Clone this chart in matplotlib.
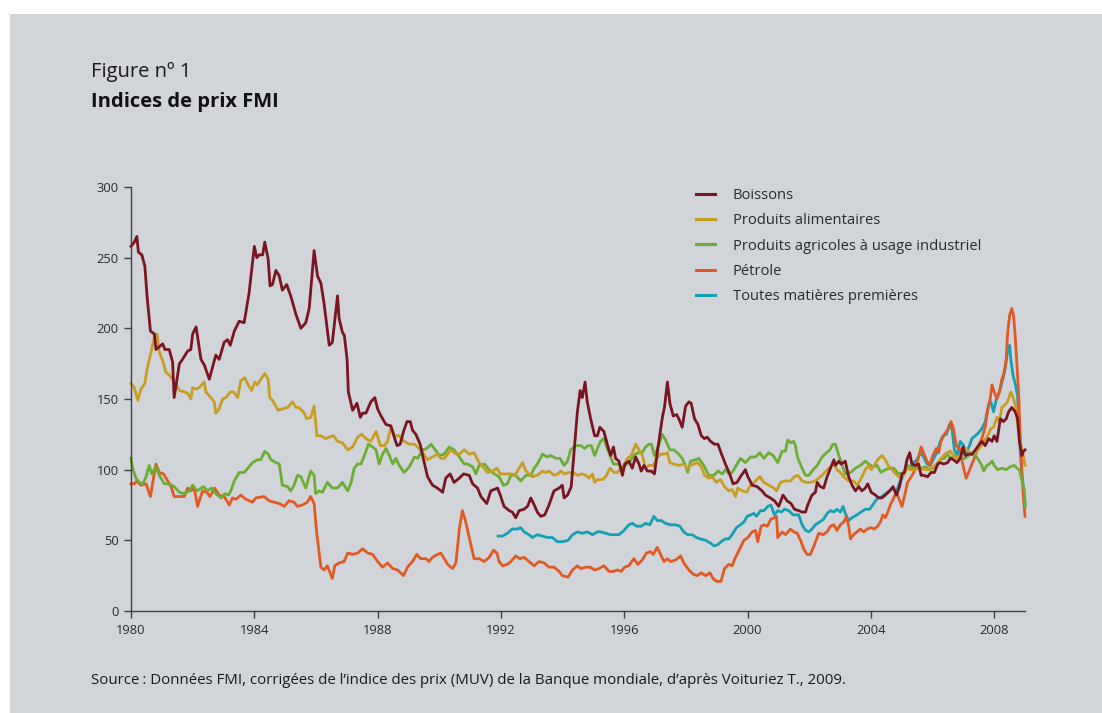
import matplotlib
matplotlib.use("Agg")
import matplotlib.pyplot as plt
from matplotlib.patches import Rectangle

# ---------------- data ----------------
boissons_t = [1980.00,1980.11,1980.19,1980.24,1980.35,1980.45,1980.52,1980.63,1980.76,1980.81,1980.92,1981.03,1981.10,1981.24,1981.35,1981.40,1981.57,1981.67,1981.84,1981.94,1982.00,1982.11,1982.27,1982.38,1982.54,1982.75,1982.86,1983.02,1983.13,1983.22,1983.35,1983.51,1983.67,1983.83,1984.00,1984.08,1984.16,1984.27,1984.34,1984.45,1984.51,1984.59,1984.70,1984.81,1984.91,1985.05,1985.18,1985.35,1985.51,1985.67,1985.78,1985.94,1986.05,1986.16,1986.26,1986.43,1986.53,1986.70,1986.75,1986.86,1986.92,1987.01,1987.05,1987.19,1987.33,1987.44,1987.51,1987.62,1987.78,1987.91,1988.00,1988.11,1988.27,1988.43,1988.54,1988.63,1988.73,1988.84,1988.95,1989.06,1989.13,1989.24,1989.38,1989.49,1989.62,1989.78,1989.94,1990.11,1990.21,1990.35,1990.48,1990.65,1990.79,1990.97,1991.08,1991.24,1991.35,1991.54,1991.67,1991.89,1991.98,1992.10,1992.27,1992.37,1992.48,1992.59,1992.75,1992.86,1992.97,1993.08,1993.18,1993.29,1993.42,1993.56,1993.72,1993.89,1993.99,1994.05,1994.16,1994.28,1994.37,1994.48,1994.57,1994.64,1994.73,1994.80,1994.91,1995.04,1995.13,1995.21,1995.34,1995.45,1995.56,1995.65,1995.72,1995.83,1995.94,1996.02,1996.15,1996.26,1996.37,1996.48,1996.55,1996.64,1996.75,1996.88,1996.98,1997.09,1997.23,1997.31,1997.40,1997.48,1997.59,1997.70,1997.77,1997.88,1997.99,1998.10,1998.17,1998.28,1998.39,1998.50,1998.60,1998.69,1998.80,1998.93,1999.04,1999.14,1999.28,1999.42,1999.53,1999.66,1999.77,1999.93,2000.01,2000.15,2000.31,2000.47,2000.58,2000.74,2000.87,2001.01,2001.15,2001.28,2001.41,2001.52,2001.66,2001.77,2001.88,2001.95,2002.09,2002.20,2002.26,2002.36,2002.47,2002.58,2002.69,2002.80,2002.85,2002.96,2003.03,2003.17,2003.28,2003.39,2003.50,2003.61,2003.71,2003.82,2003.90,2004.01,2004.15,2004.25,2004.36,2004.47,2004.61,2004.72,2004.83,2004.93,2005.01,2005.09,2005.17,2005.26,2005.33,2005.44,2005.55,2005.63,2005.71,2005.84,2005.95,2006.06,2006.17,2006.25,2006.36,2006.49,2006.58,2006.68,2006.79,2006.90,2006.99,2007.06,2007.17,2007.28,2007.39,2007.49,2007.60,2007.71,2007.82,2007.93,2008.00,2008.09,2008.20,2008.30,2008.39,2008.47,2008.57,2008.68,2008.76,2008.82,2008.90,2008.95,2009.00]
boissons_v = [258,261,265,254,252,244,223,198,196,185,187,189,185,185,176,151,175,178,184,185,196,201,178,174,164,181,178,190,192,188,198,205,204,225,258,250,252,252,261,249,230,231,241,237,227,231,223,210,200,204,214,255,237,232,218,188,190,223,207,197,195,178,155,142,147,137,140,140,148,151,143,138,132,131,123,117,118,127,134,134,128,125,118,107,95,89,87,84,94,97,91,94,97,96,90,87,81,76,85,87,82,74,71,70,66,71,72,74,80,75,70,67,68,75,85,87,89,80,82,88,112,141,156,151,162,148,136,124,124,130,127,118,110,116,108,106,96,104,106,101,109,104,99,103,99,99,97,115,136,145,162,147,138,139,136,130,145,148,147,136,132,124,122,123,120,118,118,112,104,97,90,91,95,100,95,89,88,85,82,80,78,74,82,78,76,72,71,70,70,75,82,84,91,88,87,95,101,107,103,106,104,106,95,89,85,88,85,87,90,84,82,80,80,82,85,88,82,88,97,98,107,112,104,103,104,96,96,95,98,98,104,105,104,105,108,107,105,108,116,110,111,111,114,117,120,117,122,120,124,120,136,134,136,141,144,141,136,120,110,113,114]

alim_t = [1980.00,1980.11,1980.22,1980.32,1980.45,1980.52,1980.65,1980.76,1980.84,1980.92,1981.03,1981.13,1981.24,1981.35,1981.46,1981.57,1981.73,1981.84,1981.94,1982.00,1982.11,1982.21,1982.38,1982.43,1982.59,1982.70,1982.75,1982.86,1982.97,1983.08,1983.22,1983.33,1983.46,1983.56,1983.69,1983.80,1983.91,1984.02,1984.10,1984.21,1984.34,1984.45,1984.50,1984.59,1984.77,1984.91,1985.08,1985.24,1985.35,1985.45,1985.62,1985.70,1985.83,1985.94,1986.03,1986.16,1986.32,1986.43,1986.57,1986.70,1986.86,1987.03,1987.19,1987.35,1987.48,1987.62,1987.78,1987.95,1988.09,1988.22,1988.32,1988.43,1988.54,1988.70,1988.86,1989.03,1989.19,1989.30,1989.46,1989.62,1989.78,1989.94,1990.05,1990.16,1990.38,1990.54,1990.65,1990.81,1990.97,1991.13,1991.29,1991.46,1991.56,1991.73,1991.87,1991.98,1992.14,1992.32,1992.45,1992.59,1992.70,1992.81,1992.91,1993.02,1993.18,1993.35,1993.45,1993.56,1993.72,1993.85,1993.94,1994.05,1994.21,1994.35,1994.48,1994.64,1994.75,1994.86,1994.97,1995.04,1995.13,1995.29,1995.40,1995.54,1995.67,1995.78,1995.88,1995.99,1996.10,1996.23,1996.37,1996.48,1996.59,1996.69,1996.80,1996.94,1997.05,1997.18,1997.29,1997.40,1997.48,1997.61,1997.77,1997.93,1998.04,1998.15,1998.26,1998.37,1998.50,1998.60,1998.74,1998.85,1998.99,1999.12,1999.25,1999.39,1999.50,1999.61,1999.68,1999.83,1999.97,2000.10,2000.26,2000.40,2000.53,2000.69,2000.85,2000.94,2001.07,2001.23,2001.39,2001.52,2001.63,2001.77,2001.91,2002.04,2002.20,2002.36,2002.47,2002.58,2002.69,2002.80,2002.90,2003.01,2003.12,2003.28,2003.44,2003.57,2003.71,2003.82,2003.93,2004.01,2004.11,2004.22,2004.36,2004.47,2004.58,2004.69,2004.85,2004.96,2005.06,2005.17,2005.28,2005.44,2005.60,2005.77,2005.93,2006.09,2006.25,2006.36,2006.47,2006.58,2006.68,2006.79,2006.90,2007.06,2007.22,2007.39,2007.55,2007.66,2007.79,2007.89,2007.98,2008.09,2008.17,2008.25,2008.36,2008.43,2008.54,2008.63,2008.71,2008.79,2008.87,2008.95,2009.00]
alim_v = [161,158,149,157,161,171,183,194,196,183,177,169,167,164,160,156,155,154,150,158,157,158,162,155,151,148,140,143,150,151,155,155,151,163,165,160,156,162,160,164,168,164,151,149,142,143,144,148,144,144,140,136,137,145,124,124,122,123,124,120,119,114,116,123,125,122,120,127,117,117,120,130,124,124,120,118,118,116,112,107,109,111,108,108,114,111,111,114,111,112,105,101,98,99,101,97,97,97,96,101,105,99,97,95,96,99,98,99,96,97,99,97,98,98,96,97,96,94,97,91,93,93,95,101,98,98,101,103,108,110,118,114,110,101,103,103,108,111,111,112,105,104,103,104,101,103,104,105,102,96,94,95,91,93,88,85,86,81,87,85,84,89,92,95,91,89,87,85,91,92,92,95,96,92,91,91,92,95,97,100,102,104,100,98,95,92,92,89,95,100,103,100,103,107,110,107,102,100,96,94,96,101,100,100,101,100,100,103,107,110,112,113,110,108,110,115,112,112,116,120,124,129,130,137,134,144,146,148,155,150,143,127,117,109,103]

agri_t = [1980.00,1980.05,1980.16,1980.27,1980.38,1980.49,1980.59,1980.67,1980.81,1980.92,1981.08,1981.24,1981.40,1981.57,1981.73,1981.89,1982.00,1982.14,1982.35,1982.48,1982.61,1982.75,1982.92,1983.05,1983.16,1983.24,1983.35,1983.51,1983.67,1983.83,1983.94,1984.10,1984.21,1984.34,1984.45,1984.54,1984.70,1984.81,1984.91,1985.08,1985.18,1985.29,1985.40,1985.51,1985.67,1985.83,1985.94,1985.99,1986.10,1986.21,1986.37,1986.53,1986.70,1986.86,1987.03,1987.14,1987.24,1987.35,1987.46,1987.57,1987.70,1987.84,1987.95,1988.05,1988.16,1988.27,1988.38,1988.49,1988.59,1988.70,1988.86,1989.03,1989.19,1989.30,1989.46,1989.60,1989.73,1989.84,1990.00,1990.16,1990.32,1990.48,1990.65,1990.81,1990.92,1991.08,1991.19,1991.29,1991.46,1991.62,1991.78,1991.94,1992.08,1992.21,1992.32,1992.48,1992.64,1992.81,1992.97,1993.08,1993.18,1993.35,1993.49,1993.62,1993.78,1993.92,1994.05,1994.16,1994.26,1994.42,1994.59,1994.72,1994.82,1994.93,1995.04,1995.13,1995.23,1995.34,1995.43,1995.54,1995.65,1995.80,1995.94,1996.08,1996.19,1996.31,1996.44,1996.58,1996.69,1996.80,1996.88,1996.98,1997.12,1997.23,1997.34,1997.48,1997.61,1997.77,1997.88,1997.99,1998.06,1998.15,1998.31,1998.42,1998.58,1998.74,1998.91,1999.04,1999.18,1999.28,1999.39,1999.50,1999.61,1999.77,1999.93,2000.10,2000.26,2000.40,2000.53,2000.69,2000.83,2000.98,2001.12,2001.23,2001.30,2001.41,2001.50,2001.55,2001.63,2001.77,2001.88,2001.99,2002.13,2002.26,2002.42,2002.56,2002.67,2002.77,2002.85,2002.96,2003.07,2003.17,2003.34,2003.50,2003.66,2003.82,2003.93,2004.07,2004.20,2004.33,2004.47,2004.61,2004.74,2004.90,2005.06,2005.19,2005.33,2005.50,2005.63,2005.77,2005.93,2006.09,2006.25,2006.38,2006.49,2006.58,2006.74,2006.90,2007.06,2007.22,2007.39,2007.49,2007.60,2007.66,2007.76,2007.85,2007.93,2008.00,2008.11,2008.25,2008.39,2008.52,2008.65,2008.74,2008.82,2008.90,2008.97,2009.01]
agri_v = [108,101,94,91,90,95,103,97,102,96,90,90,88,84,83,85,89,85,88,85,87,83,80,83,82,85,92,98,98,102,105,107,107,113,111,107,105,104,89,88,85,89,96,95,87,99,96,83,85,84,91,87,87,91,85,91,101,104,104,110,118,116,114,104,111,115,110,104,108,103,98,102,109,108,114,115,118,115,110,111,116,114,109,104,104,102,97,103,104,100,97,95,89,90,96,96,92,96,96,101,104,111,109,110,108,108,103,106,114,117,117,115,117,117,110,115,120,122,116,110,104,104,101,104,106,110,112,112,116,118,118,110,117,125,121,114,114,111,108,103,98,106,107,108,103,96,96,99,97,100,97,98,102,108,105,109,109,112,108,112,110,105,113,113,121,119,120,117,108,101,96,96,100,103,109,112,114,118,118,110,103,97,98,101,103,106,104,102,103,98,100,101,101,97,98,103,101,102,101,102,100,102,107,108,111,108,110,108,108,111,110,107,103,99,103,104,106,103,100,101,100,102,103,101,100,92,87,74]

petrole_t = [1980.00,1980.11,1980.19,1980.32,1980.49,1980.63,1980.76,1980.81,1980.92,1981.06,1981.19,1981.30,1981.40,1981.57,1981.73,1981.84,1981.94,1982.05,1982.16,1982.32,1982.46,1982.56,1982.71,1982.86,1983.02,1983.19,1983.29,1983.40,1983.56,1983.73,1983.94,1984.05,1984.32,1984.48,1984.64,1984.81,1984.97,1985.13,1985.29,1985.40,1985.56,1985.72,1985.83,1985.94,1986.03,1986.16,1986.26,1986.37,1986.53,1986.61,1986.75,1986.91,1987.03,1987.19,1987.35,1987.51,1987.68,1987.84,1988.00,1988.16,1988.32,1988.49,1988.65,1988.84,1988.97,1989.13,1989.27,1989.40,1989.57,1989.67,1989.78,1989.94,1990.05,1990.16,1990.27,1990.43,1990.54,1990.65,1990.75,1990.86,1990.97,1991.13,1991.29,1991.46,1991.62,1991.76,1991.87,1991.94,1992.05,1992.21,1992.32,1992.48,1992.62,1992.75,1992.91,1993.08,1993.24,1993.40,1993.56,1993.72,1993.89,1993.99,1994.18,1994.32,1994.48,1994.59,1994.75,1994.89,1995.04,1995.18,1995.34,1995.51,1995.65,1995.78,1995.90,1996.01,1996.15,1996.31,1996.44,1996.58,1996.72,1996.85,1996.94,1997.07,1997.18,1997.29,1997.40,1997.50,1997.66,1997.83,1997.93,1998.10,1998.24,1998.37,1998.50,1998.64,1998.78,1998.88,1998.99,1999.14,1999.25,1999.39,1999.50,1999.61,1999.75,1999.88,2000.01,2000.15,2000.26,2000.33,2000.44,2000.53,2000.64,2000.76,2000.87,2000.94,2000.98,2001.12,2001.23,2001.39,2001.50,2001.61,2001.72,2001.82,2001.93,2002.04,2002.17,2002.31,2002.45,2002.58,2002.69,2002.80,2002.90,2003.01,2003.12,2003.21,2003.28,2003.34,2003.44,2003.55,2003.66,2003.77,2003.88,2004.01,2004.11,2004.22,2004.31,2004.39,2004.47,2004.55,2004.63,2004.74,2004.83,2004.90,2005.01,2005.12,2005.19,2005.28,2005.39,2005.47,2005.55,2005.63,2005.71,2005.80,2005.91,2006.01,2006.12,2006.20,2006.27,2006.36,2006.45,2006.52,2006.60,2006.68,2006.77,2006.88,2006.99,2007.09,2007.17,2007.28,2007.39,2007.49,2007.60,2007.71,2007.78,2007.87,2007.93,2008.00,2008.09,2008.17,2008.25,2008.32,2008.39,2008.43,2008.50,2008.57,2008.63,2008.68,2008.74,2008.79,2008.84,2008.90,2008.95,2009.00]
petrole_v = [90,90,92,89,90,81,98,104,98,97,92,88,81,81,81,87,85,87,74,85,84,81,87,82,81,75,80,79,82,79,77,80,81,78,77,76,74,78,77,74,75,77,81,76,54,31,29,32,23,32,34,35,41,40,41,44,41,40,35,31,34,30,29,25,31,35,40,37,37,35,38,40,41,37,33,30,34,58,71,63,52,37,37,35,38,43,41,35,32,33,35,39,37,38,35,32,35,34,31,31,28,25,24,29,32,30,31,31,29,30,32,28,28,29,28,31,32,37,33,36,41,42,40,45,40,35,37,35,36,39,34,29,26,25,27,25,27,23,21,21,30,33,32,38,44,50,52,56,57,49,60,61,60,65,66,67,52,56,54,58,56,55,50,44,40,40,47,55,54,56,60,61,57,61,63,67,60,51,54,56,58,56,58,59,58,60,63,68,66,70,75,80,84,80,74,84,91,94,98,103,109,116,112,107,103,110,115,112,120,124,127,129,134,129,117,115,103,94,98,104,110,117,122,130,141,150,160,155,150,155,164,168,178,195,209,214,209,195,174,155,127,98,80,67]

toutes_t = [1991.91,1992.05,1992.21,1992.37,1992.54,1992.64,1992.75,1992.91,1993.02,1993.18,1993.35,1993.51,1993.67,1993.83,1993.99,1994.18,1994.32,1994.48,1994.64,1994.80,1994.97,1995.13,1995.23,1995.40,1995.56,1995.72,1995.83,1995.99,1996.15,1996.26,1996.40,1996.55,1996.69,1996.83,1996.96,1997.07,1997.20,1997.34,1997.50,1997.66,1997.80,1997.93,1998.06,1998.20,1998.34,1998.47,1998.64,1998.80,1998.91,1999.04,1999.14,1999.28,1999.39,1999.50,1999.64,1999.77,1999.88,1999.99,2000.10,2000.20,2000.29,2000.42,2000.53,2000.66,2000.76,2000.87,2000.98,2001.09,2001.20,2001.34,2001.48,2001.66,2001.77,2001.88,2001.99,2002.09,2002.20,2002.34,2002.47,2002.58,2002.69,2002.80,2002.90,2003.01,2003.10,2003.17,2003.28,2003.39,2003.55,2003.68,2003.82,2003.96,2004.09,2004.22,2004.36,2004.47,2004.61,2004.72,2004.83,2004.90,2005.01,2005.09,2005.17,2005.28,2005.39,2005.50,2005.60,2005.71,2005.82,2005.93,2006.04,2006.14,2006.25,2006.34,2006.45,2006.55,2006.63,2006.71,2006.79,2006.90,2007.01,2007.09,2007.20,2007.28,2007.39,2007.49,2007.60,2007.71,2007.82,2007.89,2007.98,2008.07,2008.17,2008.28,2008.36,2008.43,2008.50,2008.54,2008.61,2008.68,2008.76,2008.82,2008.90,2008.97,2009.00]
toutes_v = [53,53,55,58,58,59,56,54,52,54,53,52,52,49,49,50,54,56,55,56,54,56,56,55,54,54,54,57,61,62,60,60,62,61,67,64,64,62,61,61,60,56,54,54,52,51,50,48,46,47,49,51,51,54,59,61,63,67,68,69,67,71,71,74,75,68,71,70,72,71,68,68,61,57,56,58,61,63,65,69,71,70,72,70,74,69,64,66,68,70,72,72,76,80,81,83,85,87,84,89,94,98,103,101,105,107,112,109,104,103,108,112,120,124,125,132,129,114,110,120,117,112,117,122,124,126,129,134,146,148,141,150,155,164,172,183,188,178,167,161,152,122,96,84,76]

series_labels = ["Boissons", "Produits alimentaires",
                 "Produits agricoles à usage industriel", "Pétrole",
                 "Toutes matières premières"]
series_colors = ["#7a1420", "#c99c22", "#6cad33", "#e15a24", "#14a1b5"]
x_ticks = [1980, 1984, 1988, 1992, 1996, 2000, 2004, 2008]
y_ticks = [0, 50, 100, 150, 200, 250, 300]

# ---------------- figure ----------------
W, H = 1102, 713
fig = plt.figure(figsize=(W / 100, H / 100), dpi=100)
fig.patch.set_facecolor("white")
BG = "#d1d4d8"
fig.patches.append(Rectangle((10 / W, 0), 1 - 10 / W, 1 - 14 / H,
                             transform=fig.transFigure, facecolor=BG,
                             edgecolor="none", zorder=-10))

FONT = ["Open Sans", "DejaVu Sans"]
ax = fig.add_axes([131 / W, (H - 611) / H, (1025 - 131) / W, (611 - 187) / H])
ax.set_facecolor("none")
ax.set_zorder(2)

data = [(boissons_t, boissons_v), (alim_t, alim_v), (agri_t, agri_v),
        (petrole_t, petrole_v), (toutes_t, toutes_v)]
handles = [None] * 5
for i in [4, 3, 2, 1, 0]:
    t, v = data[i]
    ln, = ax.plot(t, v, color=series_colors[i], lw=2.0, solid_joinstyle="round",
                  label=series_labels[i], clip_on=False)
    handles[i] = ln

ax.set_xlim(1980, 2009.0)
ax.set_ylim(0, 300)
ax.set_xticks(x_ticks)
ax.set_yticks(y_ticks)
for s in ["top", "right"]:
    ax.spines[s].set_visible(False)
for s in ["left", "bottom"]:
    ax.spines[s].set_color("#3a4148")
    ax.spines[s].set_linewidth(1.0)
ax.tick_params(axis="both", colors="#3a4148", length=5, width=1.0,
               labelsize=9.3, labelcolor="#2a2a2a", pad=4)
for lab in ax.get_xticklabels() + ax.get_yticklabels():
    lab.set_family(FONT)

leg = fig.legend(handles, series_labels, loc="upper left",
                 bbox_to_anchor=(696 / W, 1 - 188 / H),
                 frameon=False, handlelength=1.3, handletextpad=1.2,
                 labelspacing=0.7, borderpad=0, borderaxespad=0,
                 prop={"family": FONT, "size": 10.6})
for txt in leg.get_texts():
    txt.set_color("#2a2a2a")
for lh in leg.legend_handles:
    lh.set_linewidth(2.2)

fig.text(91 / W, 1 - 72 / H, "Figure nº 1", family=FONT, fontsize=14.5,
         fontweight="normal", color="#1a1a1a", va="center", ha="left")
fig.text(91 / W, 1 - 102 / H, "Indices de prix FMI", family=FONT, fontsize=14.5,
         fontweight="bold", color="#111111", va="center", ha="left")
fig.text(91 / W, 1 - 680 / H,
         "Source\u202f: Données FMI, corrigées de l’indice des prix (MUV) de la Banque mondiale, d’après Voituriez T., 2009.",
         family=FONT, fontsize=10.85, color="#1a1a1a", va="center", ha="left")

fig.savefig("out.png", dpi=100, facecolor=fig.get_facecolor())
